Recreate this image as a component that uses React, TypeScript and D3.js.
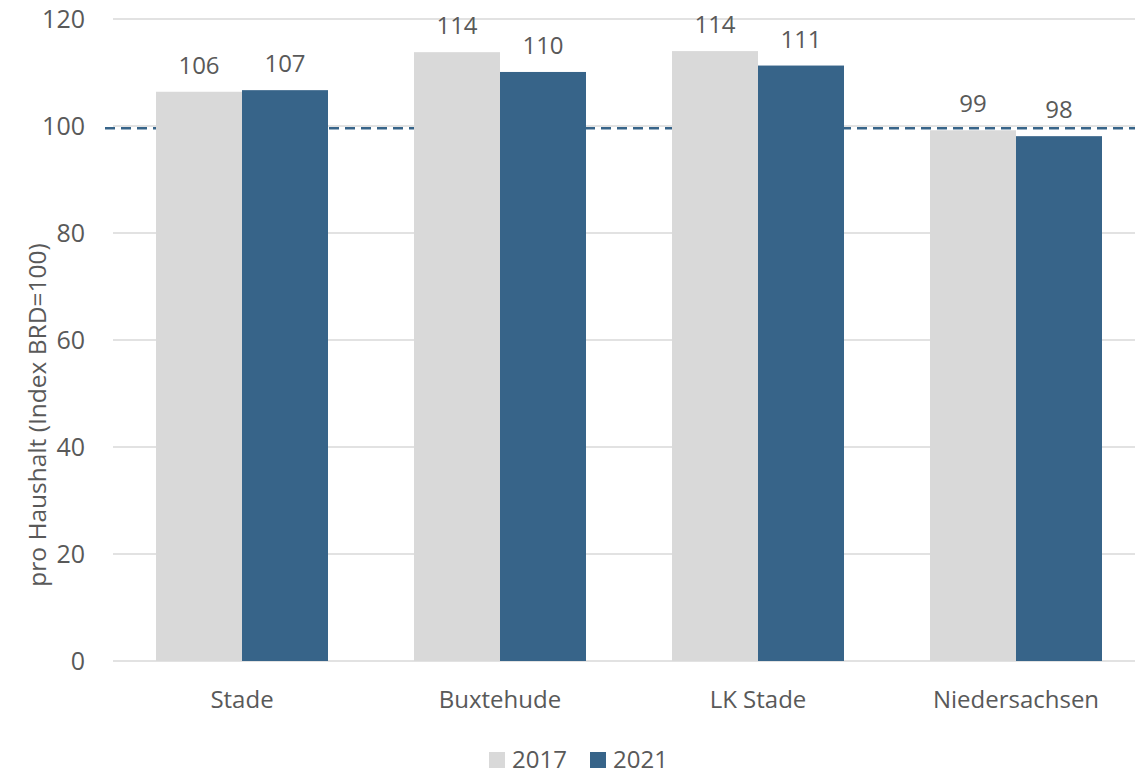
import React, { useEffect, useRef } from "react";
import * as d3 from "d3";

const categories = ["Stade", "Buxtehude", "LK Stade", "Niedersachsen"];
const seriesNames = ["2017", "2021"];
const values2017 = [106.4, 113.8, 114.0, 99.2];
const values2021 = [106.7, 110.1, 111.3, 98.1];
const yTicks = [0, 20, 40, 60, 80, 100, 120];
const referenceValue = [99.6];

const colors = { "2017": "#d9d9d9", "2021": "#376489" };

export default function App() {
  const ref = useRef<SVGSVGElement>(null);

  useEffect(() => {
    const svg = d3.select(ref.current);
    svg.selectAll("*").remove();
    const width = 1135;
    const height = 776;
    const margin = { top: 19, right: -10, bottom: 115, left: 113 };
    const font = "'Open Sans', 'Noto Sans', sans-serif";
    const textColor = "#595959";
    const fs = "24px";

    const x = d3
      .scaleBand()
      .domain(categories)
      .range([margin.left, width - margin.right]);

    const x1 = d3
      .scaleBand()
      .domain(seriesNames)
      .range([0, x.bandwidth()])
      .paddingOuter(0.5)
      .paddingInner(0);

    const y = d3
      .scaleLinear()
      .domain([0, 120])
      .range([height - margin.bottom, margin.top]);

    // grid
    svg
      .append("g")
      .selectAll("line")
      .data(yTicks)
      .join("line")
      .attr("x1", margin.left)
      .attr("x2", width)
      .attr("y1", (d) => y(d))
      .attr("y2", (d) => y(d))
      .attr("stroke", "#d9d9d9")
      .attr("stroke-width", 1.5);

    // y tick labels
    svg
      .append("g")
      .selectAll("text")
      .data(yTicks)
      .join("text")
      .attr("x", 85)
      .attr("y", (d) => y(d))
      .attr("dy", "0.35em")
      .attr("text-anchor", "end")
      .style("font-family", font)
      .style("font-size", "25px")
      .attr("fill", textColor)
      .text((d) => d);

    // reference line
    svg
      .append("g")
      .selectAll("line")
      .data(referenceValue)
      .join("line")
      .attr("x1", 105)
      .attr("x2", width)
      .attr("y1", (d) => y(d))
      .attr("y2", (d) => y(d))
      .attr("stroke", "#376489")
      .attr("stroke-width", 2.5)
      .attr("stroke-dasharray", "10,6");

    const rows = categories.map((c, i) => ({
      cat: c,
      vals: [
        { key: "2017", v: values2017[i] },
        { key: "2021", v: values2021[i] },
      ],
    }));

    const groups = svg
      .append("g")
      .selectAll("g")
      .data(rows)
      .join("g")
      .attr("transform", (d) => `translate(${x(d.cat)},0)`);

    groups
      .selectAll("rect")
      .data((d) => d.vals)
      .join("rect")
      .attr("x", (d) => x1(d.key)!)
      .attr("y", (d) => y(d.v))
      .attr("width", x1.bandwidth())
      .attr("height", (d) => y(0) - y(d.v))
      .attr("fill", (d) => colors[d.key]);

    groups
      .selectAll("text")
      .data((d) => d.vals)
      .join("text")
      .attr("x", (d) => x1(d.key)! + x1.bandwidth() / 2)
      .attr("y", (d) => y(d.v) - 18)
      .attr("text-anchor", "middle")
      .style("font-family", font)
      .style("font-size", fs)
      .attr("fill", textColor)
      .text((d) => Math.round(d.v));

    // category labels
    svg
      .append("g")
      .selectAll("text")
      .data(categories)
      .join("text")
      .attr("x", (d) => x(d)! + x.bandwidth() / 2)
      .attr("y", 700)
      .attr("dy", "0.35em")
      .attr("text-anchor", "middle")
      .style("font-family", font)
      .style("font-size", fs)
      .attr("fill", textColor)
      .text((d) => d);

    // y axis title
    svg
      .append("text")
      .attr("transform", `translate(37,415) rotate(-90)`)
      .attr("text-anchor", "middle")
      .attr("dy", "0.35em")
      .style("font-family", font)
      .style("font-size", "24.5px")
      .attr("fill", textColor)
      .text("pro Haushalt (Index BRD=100)");

    // legend
    const legendX = [489, 590];
    const legend = svg
      .append("g")
      .selectAll("g")
      .data(seriesNames)
      .join("g")
      .attr("transform", (d, i) => `translate(${legendX[i]},760)`);

    legend
      .append("rect")
      .attr("x", 0)
      .attr("y", -8)
      .attr("width", 16)
      .attr("height", 16)
      .attr("fill", (d) => colors[d]);

    legend
      .append("text")
      .attr("x", 23)
      .attr("dy", "0.35em")
      .style("font-family", font)
      .style("font-size", fs)
      .attr("fill", textColor)
      .text((d) => d);
  }, []);

  return (
    <svg
      ref={ref}
      width={1135}
      height={776}
      style={{ position: "absolute", left: 0, top: 0 }}
    />
  );
}
